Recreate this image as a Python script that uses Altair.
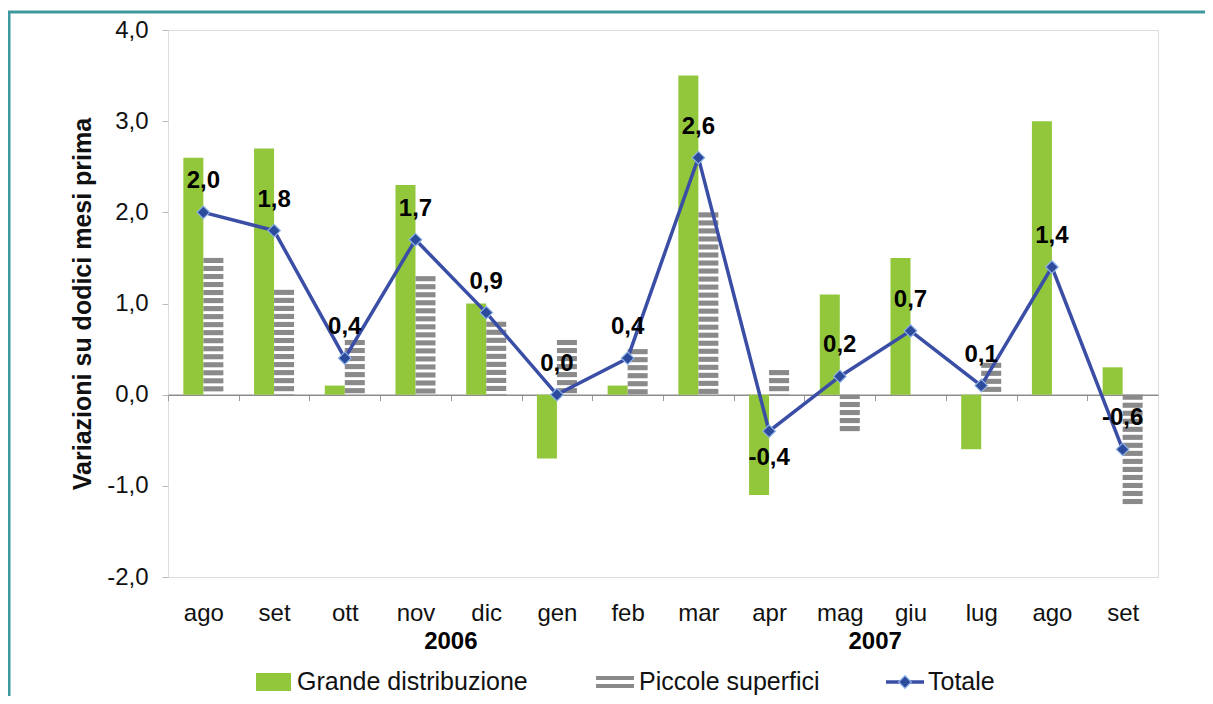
import altair as alt
import pandas as pd

# ---------------- data ----------------
months = ["ago", "set", "ott", "nov", "dic", "gen", "feb", "mar", "apr", "mag", "giu", "lug", "ago", "set"]
years = ["2006", "2006", "2006", "2006", "2006", "2007", "2007", "2007", "2007", "2007", "2007", "2007", "2007", "2007"]
grande = [2.6, 2.7, 0.1, 2.3, 1.0, -0.7, 0.1, 3.5, -1.1, 1.1, 1.5, -0.6, 3.0, 0.3]
piccole = [1.5, 1.15, 0.6, 1.3, 0.8, 0.6, 0.5, 2.0, 0.27, -0.4, 0.0, 0.35, 0.0, -1.2]
totale = [2.0, 1.8, 0.4, 1.7, 0.9, 0.0, 0.4, 2.6, -0.4, 0.2, 0.7, 0.1, 1.4, -0.6]
year_labels = ["2006", "2007"]
year_anchor = ["nov 2006", "mag 2007"]
legend_labels = ["Grande distribuzione", "Piccole superfici", "Totale"]
y_ticks = [-2, -1, 0, 1, 2, 3, 4]

keys = [f"{m} {y}" for m, y in zip(months, years)]

FONT = "Liberation Sans"
FS = 24
GREEN = "#92C73C"
GRAY = "#8A8A8A"
BLUE = "#3A4EA6"
TEAL = "#3E9A9E"

W, H = 990, 547
STEP = W / len(keys)

df = pd.DataFrame({"key": keys, "grande": grande, "piccole": piccole, "totale": totale})
df["label"] = [f"{v:.1f}".replace(".", ",") for v in totale]
df["sG"] = "G"

# horizontal stripes for the "Piccole superfici" bars (derived from the values)
period, fillpart = 0.088, 0.056
rows = []
for k, v in zip(keys, piccole):
    a = abs(v)
    sgn = 1 if v >= 0 else -1
    top = a
    while top > 0.005:
        bot = max(top - fillpart, 0)
        rows.append({"key": k, "y1": sgn * top, "y2": sgn * bot, "sP": "P"})
        top -= period
stripes = pd.DataFrame(rows)

xscale = alt.Scale(domain=keys, paddingInner=0.434, paddingOuter=0.217)
yscale = alt.Scale(domain=[-2, 4], nice=False, zero=False)
offscale = alt.Scale(domain=["G", "P"], paddingInner=0, paddingOuter=0)

x_axis = alt.Axis(
    title=None, orient="bottom", offset=-(H * 2 / 6), domainColor="#8C8C8C", domainWidth=1.5,
    tickColor="#9A9A9A", tickSize=6, tickWidth=1, tickOffset=-STEP / 2, labelOffset=STEP / 2,
    labelPadding=201, labelFontSize=FS, labelFont=FONT, labelColor="#111111", labelAngle=0,
    labelExpr="split(datum.label, ' ')[0]",
)
y_axis = alt.Axis(
    title="Variazioni su dodici mesi prima", values=y_ticks, domain=False, grid=False,
    tickColor="#BBBBBB", tickSize=6, labelPadding=14, labelFontSize=FS, labelFont=FONT,
    labelColor="#111111",
    labelExpr="replace(replace(format(datum.value, '.1f'), '.', ','), '\u2212', '-')",
    titleFont=FONT, titleFontSize=25, titleFontWeight="bold", titleColor="#111111",
    titleX=-86, titleY=H / 2, titleBaseline="middle", titleAngle=-90, titleAlign="center",
)

base = alt.Chart(df)

green = base.mark_bar(color=GREEN).encode(
    x=alt.X("key:N", scale=xscale, axis=x_axis, sort=keys),
    xOffset=alt.XOffset("sG:N", scale=offscale),
    y=alt.Y("grande:Q", scale=yscale, axis=y_axis),
    y2=alt.datum(0),
)

gray = alt.Chart(stripes).mark_bar(color=GRAY).encode(
    x=alt.X("key:N", scale=xscale, sort=keys),
    xOffset=alt.XOffset("sP:N", scale=offscale),
    y=alt.Y("y1:Q", scale=yscale),
    y2="y2:Q",
)

line = base.mark_line(color=BLUE, strokeWidth=3.5).encode(
    x=alt.X("key:N", scale=xscale, sort=keys),
    y=alt.Y("totale:Q", scale=yscale),
)
points = base.mark_point(shape="diamond", filled=True, size=160, color="#2D4B9C",
                         stroke="#8FB3E6", strokeWidth=1.2, opacity=1).encode(
    x=alt.X("key:N", scale=xscale, sort=keys),
    y=alt.Y("totale:Q", scale=yscale),
)

lbl_kw = dict(font=FONT, fontSize=FS, fontWeight="bold", color="#000000", baseline="middle")
labels_up = base.transform_filter("datum.key != 'apr 2007'").mark_text(dy=-31, **lbl_kw).encode(
    x=alt.X("key:N", scale=xscale, sort=keys),
    y=alt.Y("totale:Q", scale=yscale),
    text="label:N",
)
labels_dn = base.transform_filter("datum.key == 'apr 2007'").mark_text(dy=27, **lbl_kw).encode(
    x=alt.X("key:N", scale=xscale, sort=keys),
    y=alt.Y("totale:Q", scale=yscale),
    text="label:N",
)

ydf = pd.DataFrame({"key": year_anchor, "year": year_labels})
year_text = alt.Chart(ydf).mark_text(font=FONT, fontSize=FS, fontWeight="bold", color="#000000",
                                     baseline="middle", dx=STEP / 2).encode(
    x=alt.X("key:N", scale=xscale, sort=keys),
    y=alt.value(612),
    text="year:N",
)

# ---------------- manual legend ----------------
LY = 652
leg_green = alt.Chart(pd.DataFrame({"s": [legend_labels[0]]})).mark_rect(color=GREEN).encode(
    x=alt.value(88), x2=alt.value(123), y=alt.value(LY - 9), y2=alt.value(LY + 9))
leg_gray = alt.Chart(pd.DataFrame({"s": [legend_labels[1]]})).mark_rule(
    color=GRAY, strokeWidth=4).encode(
    x=alt.value(428), x2=alt.value(466), y=alt.value(LY - 4), y2=alt.value(LY - 4))
leg_gray2 = alt.Chart(pd.DataFrame({"s": [legend_labels[1]]})).mark_rule(
    color=GRAY, strokeWidth=4).encode(
    x=alt.value(428), x2=alt.value(466), y=alt.value(LY + 4), y2=alt.value(LY + 4))
leg_line = alt.Chart(pd.DataFrame({"s": [legend_labels[2]]})).mark_rule(
    color=BLUE, strokeWidth=3.5).encode(
    x=alt.value(718), x2=alt.value(756), y=alt.value(LY), y2=alt.value(LY))
leg_pt = alt.Chart(pd.DataFrame({"s": [legend_labels[2]]})).mark_point(
    shape="diamond", filled=True, size=160, color="#2D4B9C", stroke="#8FB3E6", strokeWidth=1.2,
    opacity=1).encode(x=alt.value(737), y=alt.value(LY))
leg_text = alt.Chart(pd.DataFrame({"s": legend_labels, "px": [129, 471, 760]})).mark_text(
    font=FONT, fontSize=25, color="#111111", align="left", baseline="middle").encode(
    x=alt.X("px:Q", scale=None), y=alt.value(LY), text="s:N")

# ---------------- teal frame ----------------
frame_left = alt.Chart(pd.DataFrame({"a": [0]})).mark_rule(color=TEAL, strokeWidth=3).encode(
    x=alt.value(-159), x2=alt.value(-159), y=alt.value(-18), y2=alt.value(700))
frame_top = alt.Chart(pd.DataFrame({"a": [0]})).mark_rule(color=TEAL, strokeWidth=3).encode(
    x=alt.value(-160), x2=alt.value(1060), y=alt.value(-18), y2=alt.value(-18))

chart = alt.layer(
    green, gray, line, points, labels_up, labels_dn, year_text,
    leg_green, leg_gray, leg_gray2, leg_line, leg_pt, leg_text, frame_left, frame_top,
).properties(
    width=W, height=H,
    autosize=alt.AutoSizeParams(type="none"),
    padding={"left": 160, "top": 22, "right": 47, "bottom": 119},
).configure_view(
    stroke="#8C8C8C", strokeWidth=2,
).configure(background="white")

chart.save("out.html", embed_options={"renderer": "svg", "actions": False})
